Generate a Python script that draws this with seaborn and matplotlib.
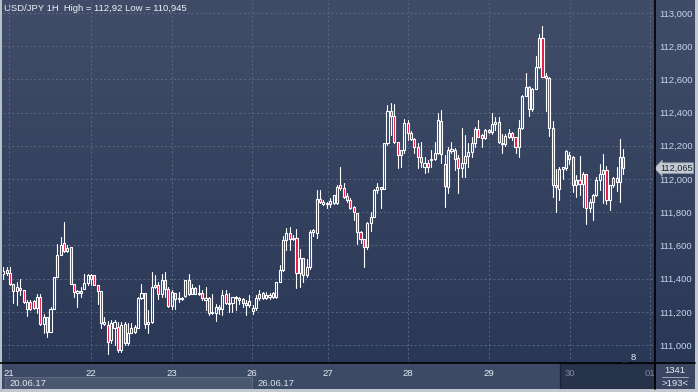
import numpy as np
import pandas as pd
import matplotlib
matplotlib.use("Agg")
import matplotlib.pyplot as plt
import matplotlib.transforms as mtransforms
from matplotlib.colors import LinearSegmentedColormap
from matplotlib.patches import Rectangle
import seaborn as sns

# Velas horarias USD/JPY (apertura, maximo, minimo, cierre)
aperturas = [
    111.43, 111.45, 111.435, 111.365, 111.325, 111.345, 111.33, 111.22, 111.26, 111.265,
    111.225, 111.29, 111.125, 111.17, 111.08, 111.22, 111.41, 111.545, 111.615, 111.568,
    111.588, 111.368, 111.316, 111.328, 111.336, 111.376, 111.40, 111.42, 111.36, 111.324,
    111.124, 111.12, 111.03, 111.10, 111.11, 110.97, 111.126, 111.01, 111.074, 111.08,
    111.10, 111.284, 111.316, 111.126, 111.14, 111.35, 111.36, 111.31, 111.394, 111.34,
    111.236, 111.316, 111.276, 111.284, 111.294, 111.39, 111.31, 111.346, 111.31, 111.316,
    111.27, 111.284, 111.196, 111.196, 111.23, 111.22, 111.306, 111.25, 111.252, 111.288,
    111.284, 111.276, 111.244, 111.244, 111.204, 111.224, 111.284, 111.316, 111.284, 111.29,
    111.312, 111.288, 111.38, 111.45, 111.63, 111.676, 111.636, 111.644, 111.436, 111.524,
    111.424, 111.47, 111.68, 111.674, 111.878, 111.85, 111.858, 111.85, 111.854, 111.854,
    111.964, 111.944, 111.898, 111.874, 111.83, 111.794, 111.678, 111.638, 111.59, 111.738,
    111.774, 111.934, 111.942, 111.942, 112.214, 112.41, 112.378, 112.224, 112.144, 112.174,
    112.338, 112.238, 112.238, 112.194, 112.13, 112.074, 112.098, 112.114, 112.118, 112.158,
    112.35, 112.09, 111.954, 112.17, 112.174, 112.124, 112.064, 112.094, 112.138, 112.164,
    112.218, 112.304, 112.264, 112.244, 112.284, 112.284, 112.33, 112.344, 112.21, 112.21,
    112.254, 112.278, 112.25, 112.19, 112.31, 112.498, 112.552, 112.422, 112.542, 112.672,
    112.848, 112.622, 112.608, 112.308, 111.962, 111.942, 112.062, 112.068, 112.142, 112.132,
    111.962, 111.992, 111.972, 112.028, 111.828, 111.862, 111.902, 111.996, 112.032, 112.056,
    111.876, 111.962, 112.008, 111.982, 112.132,
]
maximos = [
    111.47, 111.47, 111.47, 111.365, 111.38, 111.40, 111.33, 111.27, 111.27, 111.27,
    111.31, 111.31, 111.19, 111.17, 111.23, 111.41, 111.61, 111.65, 111.74, 111.60,
    111.588, 111.368, 111.33, 111.35, 111.43, 111.43, 111.425, 111.424, 111.364, 111.324,
    111.17, 111.145, 111.15, 111.15, 111.14, 111.14, 111.14, 111.13, 111.13, 111.12,
    111.29, 111.37, 111.316, 111.21, 111.44, 111.42, 111.38, 111.43, 111.44, 111.35,
    111.33, 111.316, 111.32, 111.29, 111.39, 111.426, 111.366, 111.35, 111.36, 111.33,
    111.35, 111.29, 111.31, 111.25, 111.24, 111.33, 111.33, 111.316, 111.288, 111.294,
    111.292, 111.284, 111.27, 111.30, 111.24, 111.30, 111.33, 111.32, 111.32, 111.316,
    111.32, 111.38, 111.484, 111.656, 111.704, 111.71, 111.66, 111.70, 111.58, 111.524,
    111.52, 111.69, 111.70, 111.934, 111.934, 111.874, 111.864, 111.884, 111.904, 111.964,
    112.07, 111.974, 111.914, 111.884, 111.838, 111.798, 111.684, 111.638, 111.744, 111.804,
    111.938, 111.974, 111.954, 112.214, 112.444, 112.458, 112.45, 112.224, 112.174, 112.364,
    112.354, 112.29, 112.244, 112.214, 112.224, 112.134, 112.114, 112.174, 112.224, 112.398,
    112.418, 112.144, 112.19, 112.224, 112.184, 112.144, 112.31, 112.264, 112.214, 112.25,
    112.314, 112.358, 112.274, 112.304, 112.304, 112.398, 112.374, 112.374, 112.274, 112.274,
    112.304, 112.284, 112.254, 112.358, 112.504, 112.638, 112.562, 112.55, 112.742, 112.872,
    112.92, 112.636, 112.612, 112.352, 112.062, 112.072, 112.072, 112.172, 112.162, 112.136,
    112.022, 112.136, 112.042, 112.028, 111.882, 111.912, 112.012, 112.092, 112.148, 112.076,
    111.962, 112.012, 112.072, 112.242, 112.182,
]
minimos = [
    111.40, 111.42, 111.36, 111.255, 111.24, 111.30, 111.255, 111.175, 111.21, 111.215,
    111.195, 111.12, 111.07, 111.05, 111.08, 111.215, 111.41, 111.54, 111.56, 111.56,
    111.368, 111.29, 111.23, 111.29, 111.336, 111.36, 111.36, 111.36, 111.25, 111.104,
    111.12, 110.945, 111.01, 111.00, 110.96, 110.96, 111.00, 111.00, 111.07, 111.07,
    111.10, 111.28, 111.10, 111.07, 111.13, 111.344, 111.28, 111.29, 111.29, 111.23,
    111.22, 111.22, 111.26, 111.27, 111.29, 111.30, 111.306, 111.305, 111.304, 111.27,
    111.21, 111.18, 111.19, 111.144, 111.19, 111.18, 111.25, 111.20, 111.20, 111.21,
    111.25, 111.23, 111.18, 111.23, 111.19, 111.21, 111.27, 111.276, 111.276, 111.28,
    111.284, 111.284, 111.38, 111.444, 111.57, 111.57, 111.63, 111.344, 111.35, 111.38,
    111.41, 111.46, 111.656, 111.644, 111.854, 111.844, 111.824, 111.834, 111.85, 111.85,
    111.934, 111.884, 111.864, 111.818, 111.754, 111.61, 111.614, 111.47, 111.578, 111.684,
    111.77, 111.914, 111.824, 111.938, 112.204, 112.264, 112.214, 112.064, 112.074, 112.154,
    112.234, 112.234, 112.154, 112.064, 112.074, 112.034, 112.044, 112.074, 112.114, 112.15,
    112.094, 111.834, 111.918, 112.154, 112.054, 111.918, 112.014, 112.01, 112.074, 112.134,
    112.194, 112.25, 112.194, 112.238, 112.278, 112.274, 112.294, 112.218, 112.158, 112.198,
    112.244, 112.234, 112.158, 112.13, 112.304, 112.498, 112.382, 112.41, 112.54, 112.67,
    112.616, 112.412, 112.262, 111.892, 111.802, 111.872, 112.002, 112.052, 112.092, 111.922,
    111.892, 111.902, 111.832, 111.728, 111.802, 111.756, 111.896, 111.936, 111.856, 111.852,
    111.816, 111.952, 111.928, 111.862, 112.032,
]
cierres = [
    111.445, 111.435, 111.365, 111.325, 111.35, 111.333, 111.26, 111.26, 111.22, 111.225,
    111.29, 111.125, 111.17, 111.08, 111.22, 111.41, 111.545, 111.605, 111.568, 111.584,
    111.368, 111.32, 111.328, 111.316, 111.376, 111.42, 111.424, 111.36, 111.324, 111.132,
    111.136, 111.02, 111.134, 111.14, 110.97, 111.12, 111.01, 111.074, 111.10, 111.11,
    111.284, 111.316, 111.126, 111.14, 111.35, 111.364, 111.31, 111.394, 111.34, 111.236,
    111.32, 111.276, 111.284, 111.28, 111.39, 111.31, 111.346, 111.31, 111.316, 111.286,
    111.284, 111.196, 111.20, 111.23, 111.22, 111.30, 111.256, 111.256, 111.288, 111.284,
    111.27, 111.256, 111.256, 111.264, 111.224, 111.284, 111.31, 111.284, 111.30, 111.304,
    111.288, 111.38, 111.45, 111.63, 111.676, 111.636, 111.644, 111.436, 111.524, 111.424,
    111.47, 111.68, 111.69, 111.878, 111.864, 111.864, 111.85, 111.87, 111.904, 111.954,
    111.944, 111.89, 111.874, 111.824, 111.80, 111.678, 111.638, 111.59, 111.734, 111.774,
    111.934, 111.95, 111.95, 112.214, 112.41, 112.378, 112.224, 112.144, 112.174, 112.338,
    112.278, 112.278, 112.194, 112.13, 112.104, 112.098, 112.074, 112.118, 112.158, 112.354,
    112.15, 111.958, 112.174, 112.178, 112.118, 112.064, 112.094, 112.138, 112.164, 112.218,
    112.304, 112.254, 112.244, 112.294, 112.294, 112.33, 112.344, 112.224, 112.214, 112.258,
    112.278, 112.25, 112.19, 112.31, 112.498, 112.554, 112.422, 112.54, 112.672, 112.848,
    112.616, 112.608, 112.308, 111.962, 111.952, 112.062, 112.072, 112.166, 112.122, 111.962,
    111.992, 111.972, 112.028, 111.828, 111.862, 111.902, 111.996, 112.032, 112.056, 111.876,
    111.962, 112.008, 111.982, 112.132, 112.065,
]

dias = ['21', '22', '23', '26', '27', '28', '29', '30', '01']
pos_dias = [1.7, 26.0, 50.1, 73.8, 96.3, 120.1, 144.1, 168.2, 191.9]
precios_eje = [111.0, 111.2, 111.4, 111.6, 111.8, 112.0, 112.2, 112.4, 112.6, 112.8, 113.0]
semanas = ['20.06.17', '26.06.17']
titulo = 'USD/JPY 1H  High = 112,92 Low = 110,945'
ultimo = 112.065
contador = ['1341', '>193<']

sns.set_theme(style='dark')
plt.rcParams['font.family'] = ['Liberation Sans', 'DejaVu Sans']

W, H = 698, 392
fig = plt.figure(figsize=(W / 100, H / 100), dpi=100)

# Fondo con degradado (coordenadas en pixeles)
fondo = fig.add_axes([0, 0, 1, 1], zorder=0)
fondo.set_xlim(0, W)
fondo.set_ylim(H, 0)
fondo.axis('off')
degradado = np.linspace(0, 1, 256).reshape(-1, 1)
cmap = LinearSegmentedColormap.from_list('fondo', ['#414d68', '#283655'])
fondo.imshow(degradado, aspect='auto', cmap=cmap, extent=[0, W, H, 0])

# Barra de fechas
fondo.add_patch(Rectangle((0, 363), 560, 26, fc='#3d4a65', ec='none'))
fondo.add_patch(Rectangle((560, 363), 95, 26, fc='#27324b', ec='#1c2436', lw=1))
fondo.add_patch(Rectangle((5, 376.5), 247, 12, fc='#4b576f', ec='#5e6a82', lw=0.8))
fondo.text(9, 383, semanas[0], fontsize=6.8, color='#e0e6f0', va='center')
fondo.text(257, 383, semanas[1], fontsize=6.8, color='#e0e6f0', va='center')
fondo.text(4, 8, titulo, fontsize=6.8, color='#eef1f6', va='center')

# Grafico principal
ax = fig.add_axes([3 / W, 1 - 363 / H, 652 / W, 363 / H], zorder=2)
ax.set_facecolor('none')
ax.set_xlim(-0.1, 193.4)
ax.set_ylim(110.892, 113.078)

velas = pd.DataFrame({'apertura': aperturas, 'maximo': maximos,
                      'minimo': minimos, 'cierre': cierres})
n = len(velas)
velas['x'] = np.arange(n)
velas['tope'] = velas[['apertura', 'cierre']].max(axis=1)
velas['base'] = velas[['apertura', 'cierre']].min(axis=1)

# Mechas: segmento superior e inferior de cada vela
sup = pd.DataFrame({'x': np.repeat(velas['x'], 2),
                    'y': np.column_stack([velas['tope'], velas['maximo']]).ravel(),
                    'seg': np.repeat(np.arange(n), 2)})
inf = pd.DataFrame({'x': np.repeat(velas['x'], 2),
                    'y': np.column_stack([velas['base'], velas['minimo']]).ravel(),
                    'seg': np.repeat(np.arange(n, 2 * n), 2)})
mechas = pd.concat([sup, inf], ignore_index=True)
sns.lineplot(data=mechas, x='x', y='y', units='seg', estimator=None, sort=False,
             color='white', linewidth=0.8, ax=ax, legend=False)

# Cuerpos: huecos si sube, rojos si baja
alto = (velas['tope'] - velas['base']).clip(lower=0.004)
relleno = ['none' if c >= o else '#e3163d' for o, c in zip(velas['apertura'], velas['cierre'])]
ax.bar(velas['x'], alto, bottom=velas['base'], width=0.62, color=relleno,
       edgecolor='white', linewidth=0.8, zorder=3)

ax.set_xlabel('')
ax.set_ylabel('')
ax.set_yticks(precios_eje)
ax.set_yticklabels([f'{p:.3f}'.replace('.', ',') for p in precios_eje])
ax.yaxis.tick_right()
ax.tick_params(axis='y', length=0, pad=3, labelsize=6.8, labelcolor='#c9d5ea')
ax.set_xticks(pos_dias)
ax.set_xticklabels(dias)
ax.tick_params(axis='x', length=0, pad=4, labelsize=6.8)
for i, lab in enumerate(ax.get_xticklabels()):
    lab.set_color('#7d8aa2' if i >= 7 else '#e6ebf3')
ax.grid(True, color='#5b6882', linestyle=(0, (2, 2.5)), linewidth=0.7)
ax.set_axisbelow(True)
for s in ax.spines.values():
    s.set_visible(False)

# Etiqueta del ultimo precio
trans = mtransforms.blended_transform_factory(ax.transAxes, ax.transData)
ax.text(1.0075, ultimo, f'{ultimo:.3f}'.replace('.', ','), transform=trans,
        fontsize=6.6, color='#1c2230', va='center', ha='left', clip_on=False, zorder=6,
        bbox=dict(boxstyle='larrow,pad=0.1', fc='#c5cad3', ec='#8a93a3', lw=0.6))

# Capa frontal: bordes, esquina y marco
frente = fig.add_axes([0, 0, 1, 1], zorder=4)
frente.set_xlim(0, W)
frente.set_ylim(H, 0)
frente.axis('off')
frente.patch.set_alpha(0)
frente.add_patch(Rectangle((655.5, 363.5), 40, 25.5, fc='#3a4661', ec='none'))
frente.plot([662, 688], [377, 377], color='#a0a8b8', lw=0.7)
frente.text(675, 370.5, contador[0], fontsize=6.8, color='#e6ebf3', ha='center', va='center')
frente.text(675, 383.5, contador[1], fontsize=6.8, color='#e6ebf3', ha='center', va='center')
frente.plot([0, 695], [363, 363], color='black', lw=1.2)
frente.plot([655, 655], [0, 389], color='black', lw=1.2)
frente.add_patch(Rectangle((0, 389), W, 3, fc='#c3c8d0', ec='none'))
frente.add_patch(Rectangle((0, 0), 1.5, H, fc='#b8c0cc', ec='none'))
frente.add_patch(Rectangle((695, 0), 3, H, fc='#c3c8d0', ec='none'))
frente.plot([624], [358.5], marker='^', ms=3.5, color='#2a3448', ls='none')
frente.text(633, 358, '8', fontsize=6.8, color='#e6ebf3', ha='center', va='center')

fig.savefig('out.png', dpi=100)
